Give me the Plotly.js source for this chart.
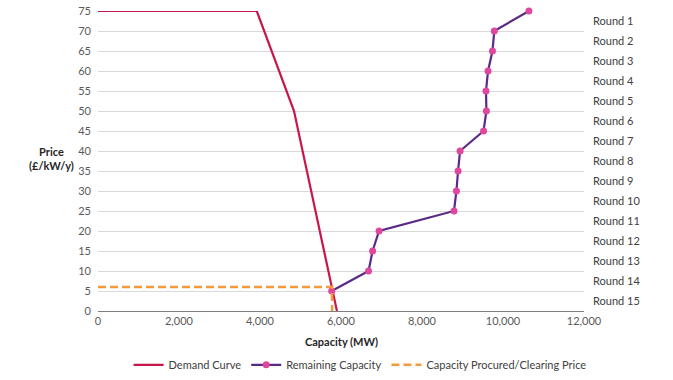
<!DOCTYPE html>
<html>
<head>
<meta charset="utf-8">
<script src="https://cdn.plot.ly/plotly-3.0.1.min.js"></script>
<style>html,body{margin:0;padding:0;background:#fff;}#chart{width:673px;height:380px;}</style>
</head>
<body>
<div id="chart"></div>
<script>
// Demand curve
const demandCapacity = [0, 3920, 4840, 5900];
const demandPrice = [75, 75, 50, 0];

// Remaining capacity by price round
const remainingCapacity = [10640, 9785, 9740, 9630, 9580, 9590, 9520, 8940, 8890, 8850, 8790, 6940, 6780, 6680, 5770];
const remainingPrice = [75, 70, 65, 60, 55, 50, 45, 40, 35, 30, 25, 20, 15, 10, 5];

// Capacity procured / clearing price
const procuredCapacity = [0, 5780, 5780];
const procuredPrice = [6, 6, 0];

// Round labels
const roundLabels = ["Round 1","Round 2","Round 3","Round 4","Round 5","Round 6","Round 7","Round 8","Round 9","Round 10","Round 11","Round 12","Round 13","Round 14","Round 15"];
const roundPositions = [72.5, 67.5, 62.5, 57.5, 52.5, 47.5, 42.5, 37.5, 32.5, 27.5, 22.5, 17.5, 12.5, 7.5, 2.5];

const FONT = "Lato, 'Open Sans', sans-serif";
const TXT = "#404040";

const traces = [
  {x: demandCapacity, y: demandPrice, name: "Demand Curve", mode: "lines", cliponaxis: false,
   line: {color: "#C8174A", width: 2.2}},
  {x: remainingCapacity, y: remainingPrice, name: "Remaining Capacity", mode: "lines+markers", cliponaxis: false,
   line: {color: "#5B2A86", width: 2.2}, marker: {color: "#E0479E", size: 7}},
  {x: procuredCapacity, y: procuredPrice, name: "Capacity Procured/Clearing Price", mode: "lines", cliponaxis: false,
   line: {color: "#F39A3C", width: 2.5, dash: "8px,4px"}},
  {x: [null], y: [null], yaxis: "y2", showlegend: false, hoverinfo: "skip"}
];

const layout = {
  width: 673, height: 380,
  margin: {l: 98, r: 89, t: 11, b: 69},
  paper_bgcolor: "#fff", plot_bgcolor: "#fff",
  font: {family: FONT, size: 11, color: TXT},
  showlegend: true,
  legend: {orientation: "h", xref: "container", yref: "container", x: 0.535, xanchor: "center",
           y: 0.04, yanchor: "middle",
           font: {size: 11, color: TXT}, itemwidth: 30, tracegroupgap: 0},
  xaxis: {range: [0, 12000], tickvals: [0,2000,4000,6000,8000,10000,12000], tickformat: ",",
          showgrid: false, zeroline: false, showline: true, linecolor: "#7f7f7f", linewidth: 1,
          ticks: "", tickfont: {size: 11, color: "#595959"}},
  yaxis: {range: [0, 75], tickvals: [0,5,10,15,20,25,30,35,40,45,50,55,60,65,70,75],
          showgrid: true, gridcolor: "#d9d9d9", gridwidth: 1, zeroline: false, showline: false,
          ticks: "", tickfont: {size: 11, color: "#595959"}, ticklabelstandoff: 6},
  yaxis2: {range: [0, 75], overlaying: "y", side: "right", anchor: "x",
           tickvals: roundPositions, ticktext: roundLabels, showgrid: false, zeroline: false,
           showline: false, ticks: "", tickfont: {size: 11, color: TXT}, ticklabelstandoff: 8},
  annotations: [
    {text: "<b>Price<br>(£/kW/y)</b>", xref: "paper", yref: "paper", x: -0.095, y: 0.51,
     xanchor: "center", yanchor: "middle", showarrow: false, align: "center",
     font: {size: 11, color: "#262626"}},
    {text: "<b>Capacity (MW)</b>", xref: "paper", yref: "paper", x: 0.5, y: -0.103,
     xanchor: "center", yanchor: "middle", showarrow: false,
     font: {size: 11, color: "#262626"}}
  ]
};

Plotly.newPlot("chart", traces, layout, {displayModeBar: false, staticPlot: true});
</script>
</body>
</html>
